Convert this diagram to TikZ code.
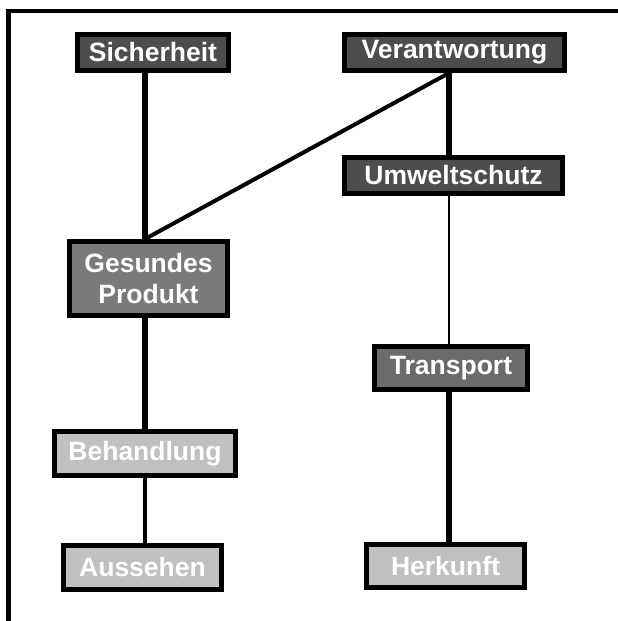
\documentclass[tikz,border=0pt]{standalone}
\usepackage{fontspec}
\setmainfont{Liberation Sans}
\usepackage{xcolor}
\usepackage{tikz}
\usetikzlibrary{calc}

\definecolor{darkbox}{HTML}{4D4D4D}
\definecolor{midbox}{HTML}{7A7A7A}
\definecolor{trbox}{HTML}{6B6B6B}
\definecolor{lightbox}{HTML}{C0C0C0}

\begin{document}
\begin{tikzpicture}[x=1pt,y=-1pt,
    box/.style={draw=black,line width=5pt,text=white,inner sep=0pt,
        font=\fontsize{26.5}{31}\selectfont\bfseries,align=center},
    thickline/.style={line width=6.5pt},
    thinline/.style={line width=3.3pt}]
\useasboundingbox (0,0) rectangle (618,621);
% frame
\draw[line width=4.5pt] (618,11) -- (8.5,11) -- (8.5,621);

% left column
\node[box,fill=darkbox,minimum width=151,minimum height=36] (sich) at (153,52.5) {Sicherheit};
\node[box,fill=midbox,minimum width=158,minimum height=74] (gp) at (148.5,278.5) {Gesundes\\Produkt};
\node[box,fill=lightbox,minimum width=181,minimum height=44] (beh) at (145,453.5) {Behandlung};
\node[box,fill=lightbox,minimum width=158,minimum height=44] (aus) at (142.5,567.5) {Aussehen};

% right column
\node[box,fill=darkbox,minimum width=220,minimum height=36] (ver) at (454.5,52.5) {Verantwortung};
\node[box,fill=darkbox,minimum width=218,minimum height=36] (umw) at (453.5,175.5) {Umweltschutz};
\node[box,fill=trbox,minimum width=153,minimum height=43] (trans) at (451,368) {Transport};
\node[box,fill=lightbox,minimum width=158,minimum height=43] (herk) at (445.5,566) {Herkunft};

\coordinate (lcol) at (145,0);
\coordinate (rcol) at (449,0);

% connections
\draw[thickline] (sich.south -| lcol) -- (gp.north -| lcol);
\draw[thickline] (gp.south -| lcol) -- (beh.north -| lcol);
\draw[thinline] (beh.south -| lcol) -- (aus.north -| lcol);
\draw[thickline] (ver.south -| rcol) -- (umw.north -| rcol);
\draw[line width=2.8pt] (umw.south -| rcol) -- (trans.north -| rcol);
\draw[thickline] (trans.south -| rcol) -- (herk.north -| rcol);
\draw[line width=4pt] (ver.south -| rcol) -- (gp.north -| lcol);
\end{tikzpicture}
\end{document}
